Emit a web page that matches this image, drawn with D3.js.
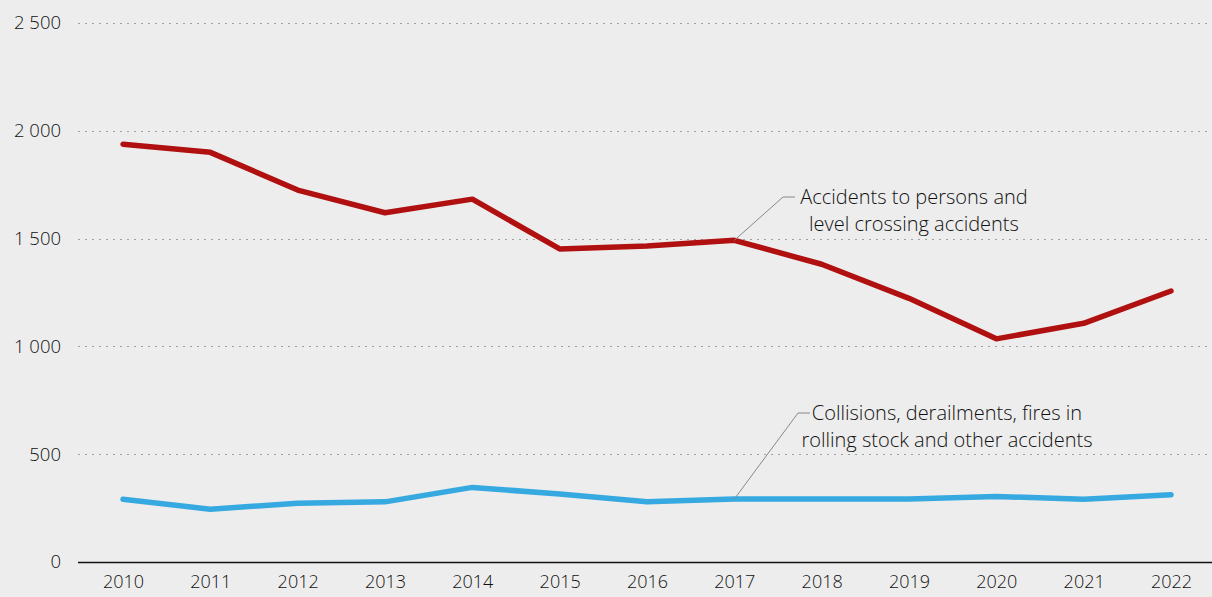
<!DOCTYPE html>
<html>
<head>
<meta charset="utf-8">
<script src="https://cdn.jsdelivr.net/npm/d3@7"></script>
<style>
  body { margin: 0; background: #ededed; }
  svg { display: block; font-family: "Open Sans", sans-serif; }
</style>
</head>
<body>
<div id="chart"></div>
<script>
// Chart data
const years = [2010, 2011, 2012, 2013, 2014, 2015, 2016, 2017, 2018, 2019, 2020, 2021, 2022];
const personsAccidents = [1938, 1900, 1725, 1620, 1683, 1452, 1466, 1492, 1381, 1223, 1035, 1107, 1257];
const collisionAccidents = [291, 245, 273, 279, 346, 315, 279, 292, 292, 292, 304, 291, 312];
const yTicks = [0, 500, 1000, 1500, 2000, 2500];
const personsLabel = ["Accidents to persons and", "level crossing accidents"];
const collisionLabel = ["Collisions, derailments, fires in", "rolling stock and other accidents"];

const width = 1212, height = 597;
const plotLeft = 78, plotTop = 23, plotBottom = 562;

const svg = d3.select("#chart")
  .append("svg")
  .attr("width", width)
  .attr("height", height);

svg.append("rect")
  .attr("width", width)
  .attr("height", height)
  .attr("fill", "#ededed");

// Scales
const x = d3.scalePoint()
  .domain(years)
  .range([123, 1171]);

const y = d3.scaleLinear()
  .domain([0, 2500])
  .range([plotBottom, plotTop]);

const fmt = d3.formatLocale({ decimal: ".", thousands: " ", grouping: [3], currency: ["", ""] }).format(",");

// Gridlines
svg.append("g")
  .selectAll("line")
  .data(yTicks.filter(d => d > 0))
  .join("line")
  .attr("x1", plotLeft)
  .attr("x2", width)
  .attr("y1", d => Math.round(y(d)) + 0.5)
  .attr("y2", d => Math.round(y(d)) + 0.5)
  .attr("stroke", "#a0a0a0")
  .attr("stroke-width", 1)
  .attr("stroke-dasharray", "2,5");

// Y axis labels
const yAxis = svg.append("g")
  .attr("transform", `translate(${plotLeft},0)`)
  .call(d3.axisLeft(y).tickValues(yTicks).tickFormat(fmt).tickSize(0).tickPadding(17));
yAxis.select(".domain").remove();
yAxis.selectAll("text")
  .attr("font-family", "Open Sans, sans-serif")
  .attr("font-size", 18.5)
  .attr("font-weight", 300)
  .attr("fill", "#111");

// X axis
const xAxis = svg.append("g")
  .attr("transform", `translate(0,${plotBottom})`)
  .call(d3.axisBottom(x).tickSize(0).tickPadding(13));
xAxis.select(".domain").remove();
xAxis.selectAll("text")
  .attr("font-family", "Open Sans, sans-serif")
  .attr("font-size", 18)
  .attr("font-weight", 300)
  .attr("fill", "#111");

svg.append("line")
  .attr("x1", plotLeft)
  .attr("x2", width)
  .attr("y1", plotBottom + 0.5)
  .attr("y2", plotBottom + 0.5)
  .attr("stroke", "#111")
  .attr("stroke-width", 1.5);

// Lines
const line = d3.line()
  .x((d, i) => x(years[i]))
  .y(d => y(d));

svg.append("path")
  .datum(collisionAccidents)
  .attr("fill", "none")
  .attr("stroke", "#36a9e1")
  .attr("stroke-width", 5.5)
  .attr("stroke-linecap", "round")
  .attr("stroke-linejoin", "round")
  .attr("d", line);

svg.append("path")
  .datum(personsAccidents)
  .attr("fill", "none")
  .attr("stroke", "#b0100f")
  .attr("stroke-width", 5.5)
  .attr("stroke-linecap", "round")
  .attr("stroke-linejoin", "round")
  .attr("d", line);

// Annotations with leader lines
function annotate(values, idx, elbow, lines, cx) {
  const px = x(years[idx]), py = y(values[idx]);
  svg.append("polyline")
    .attr("points", `${px},${py} ${elbow[0]},${elbow[1]} ${elbow[0] + 12},${elbow[1]}`)
    .attr("fill", "none")
    .attr("stroke", "#888")
    .attr("stroke-width", 1);
  const t = svg.append("text")
    .attr("text-anchor", "middle")
    .attr("font-size", 20)
    .attr("font-weight", 300)
    .attr("fill", "#111");
  lines.forEach((s, i) => {
    t.append("tspan")
      .attr("x", cx)
      .attr("y", elbow[1] + 7 + i * 27)
      .text(s);
  });
}

annotate(personsAccidents, 7, [783, 197], personsLabel, 914);
annotate(collisionAccidents, 7, [798, 413], collisionLabel, 947);
</script>
</body>
</html>
